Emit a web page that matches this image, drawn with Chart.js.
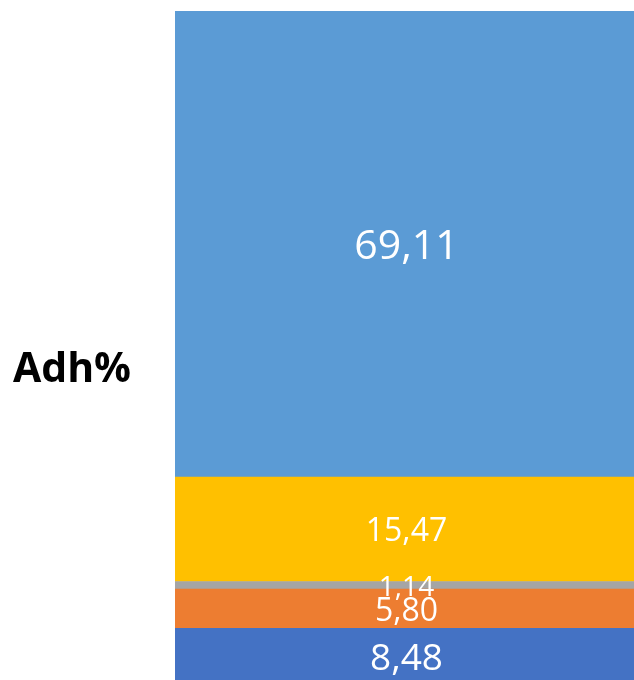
<!DOCTYPE html>
<html>
<head>
<meta charset="utf-8">
<script src="https://cdn.jsdelivr.net/npm/chart.js@4"></script>
<style>
  html, body { margin: 0; padding: 0; overflow: hidden; background: #ffffff; }
  #wrap { position: relative; width: 634px; height: 688px; }
</style>
</head>
<body>
<div id="wrap"><canvas id="c"></canvas></div>
<script>
// Data
const categories = ['Adh%'];
const seriesNames = ['S1', 'S2', 'S3', 'S4', 'S5'];
const seriesValues = [
  [8.48],
  [5.80],
  [1.14],
  [15.47],
  [69.11]
];
const seriesColors = ['#4472C4', '#ED7D31', '#A5A5A5', '#FFC000', '#5B9BD5'];
const labelFontSizes = [37, 32, 28, 32, 41];

const datasets = seriesNames.map((name, i) => ({
  label: name,
  data: seriesValues[i],
  backgroundColor: seriesColors[i],
  borderWidth: 0,
  barPercentage: 1,
  categoryPercentage: 1
}));

const valueLabels = {
  id: 'valueLabels',
  afterDatasetsDraw(chart) {
    const ctx = chart.ctx;
    ctx.save();
    ctx.fillStyle = '#ffffff';
    ctx.textAlign = 'center';
    ctx.textBaseline = 'middle';
    chart.data.datasets.forEach((ds, i) => {
      const meta = chart.getDatasetMeta(i);
      meta.data.forEach((el, j) => {
        const c = el.getCenterPoint();
        ctx.font = labelFontSizes[i] + 'px "Open Sans", sans-serif';
        ctx.fillText(ds.data[j].toFixed(2).replace('.', ','), c.x + 2, c.y + 3);
      });
    });
    ctx.restore();
  }
};

const categoryTitle = {
  id: 'categoryTitle',
  afterDraw(chart) {
    const ctx = chart.ctx;
    ctx.save();
    ctx.fillStyle = '#000000';
    ctx.textAlign = 'center';
    ctx.textBaseline = 'middle';
    ctx.font = 'bold 41px "Open Sans", sans-serif';
    ctx.fillText(categories[0], 72, 370);
    ctx.restore();
  }
};

new Chart(document.getElementById('c'), {
  type: 'bar',
  data: { labels: categories, datasets },
  options: {
    responsive: true,
    maintainAspectRatio: false,
    animation: false,
    layout: { padding: { top: 11, left: 175, right: 0, bottom: 2.5 } },
    plugins: { legend: { display: false }, tooltip: { enabled: false } },
    scales: {
      x: { stacked: true, display: false },
      y: { stacked: true, display: false, min: 0, max: 100 }
    }
  },
  plugins: [valueLabels, categoryTitle]
});
</script>
</body>
</html>
